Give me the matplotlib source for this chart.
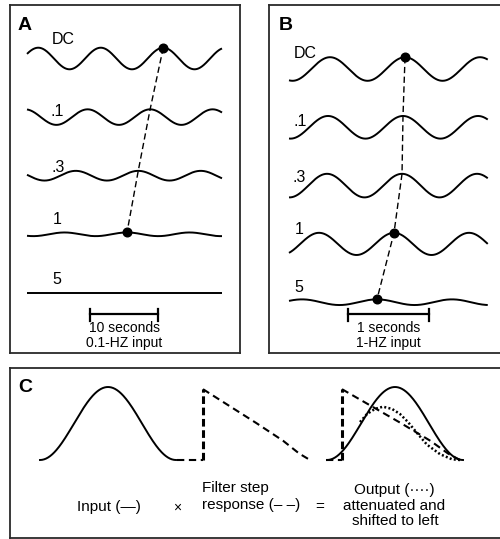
import numpy as np
import matplotlib
matplotlib.use('Agg')
import matplotlib.pyplot as plt

plt.rcParams['font.family'] = ['Liberation Sans', 'DejaVu Sans']

# ---------------- data ----------------
row_labels = ['DC', '.1', '.3', '1', '5']

# Panel A: 0.1-Hz input
freq_a = 0.1
gain_a = [1.0, 0.72, 0.45, 0.17, 0.0]
peak_time_a = [21.8, 19.7, 17.8, 16.0, 14.4]   # s
duration_a = 31.2
dots_a = [0, 3]
peak_rows_a = [0, 1, 2, 3]
scale_a = (10.1, 21.0)
scale_text_a = ['10 seconds', '0.1-HZ input']

# Panel B: 1-Hz input
freq_b = 1.0
gain_b = [1.0, 0.96, 1.0, 0.94, 0.24]
peak_time_b = [1.547, 1.52, 1.507, 1.40, 1.173]  # s
duration_b = 2.65
dots_b = [0, 3, 4]
peak_rows_b = [0, 1, 2, 3, 4]
scale_b = (0.787, 1.867)
scale_text_b = ['1 seconds', '1-HZ input']

# Panel C: schematic input x filter step response = output
input_start = [30, 317]
input_width = 136
filter_pre = [167, 316]
filter_step = [193, 332]
filter_end = [300, 450]
filter_top = 0.97
decay_s = [0.0, 0.25, 0.5, 0.75, 0.9, 1.0]
decay_v = [1.0, 0.76, 0.52, 0.27, 0.09, 0.0]
output_x = [350, 357, 365, 373, 382, 390, 398, 407, 417, 430, 442, 450]
output_y = [0.52, 0.63, 0.70, 0.73, 0.70, 0.63, 0.52, 0.37, 0.21, 0.08, 0.01, 0.0]

# ---------------- layout ----------------
W, H = 500, 539
fig = plt.figure(figsize=(W / 100, H / 100), dpi=100)
BORDER = '#2a2a2a'
LW = 1.4


def fx(px):
    return px / W


def fy(py):
    return 1 - py / H


def style_box(ax):
    ax.set_xticks([])
    ax.set_yticks([])
    for s in ax.spines.values():
        s.set_color(BORDER)
        s.set_linewidth(1.3)
    ax.patch.set_alpha(0)


def wave_panel(left_px, right_px, px_per_sec, x0_px, row_y0, row_gap, base_amp,
               freq, gains, peaks, duration, dots, peak_rows, scale, scale_text,
               label_pos, letter, letter_pos):
    ax = fig.add_axes([fx(left_px), fy(353), fx(right_px - left_px), 348 / H])
    style_box(ax)
    ax.set_xlim(-x0_px / px_per_sec, (right_px - left_px - x0_px) / px_per_sec)
    ax.set_ylim(348, 0)
    t = np.linspace(0, duration, 600)
    pk_x, pk_y = [], []
    for i, (g, tp) in enumerate(zip(gains, peaks)):
        yc = row_y0 + i * row_gap
        amp = base_amp * g
        y = yc - amp * np.cos(2 * np.pi * freq * (t - tp))
        ax.plot(t, y, color='black', lw=LW, solid_capstyle='butt')
        if i in peak_rows:
            pk_x.append(tp)
            pk_y.append(yc - amp)
    ax.plot(pk_x, pk_y, color='black', lw=1.0, ls=(0, (4.5, 2.5)))
    for i in dots:
        ax.plot(pk_x[peak_rows.index(i)], pk_y[peak_rows.index(i)], 'o',
                color='black', ms=6.2)
    # scale bar
    yb = 309
    ax.plot(scale, [yb, yb], color='black', lw=1.6)
    for xb in scale:
        ax.plot([xb, xb], [yb - 5, yb + 7], color='black', lw=1.6)
    xm = (scale[0] + scale[1]) / 2
    ax.text(xm, 323, scale_text[0], ha='center', va='center', fontsize=10)
    ax.text(xm, 338, scale_text[1], ha='center', va='center', fontsize=10)
    for lab, (px, py) in zip(row_labels, label_pos):
        fig.text(fx(px), fy(py), lab, ha='center', va='center', fontsize=11.5)
    fig.text(fx(letter_pos[0]), fy(letter_pos[1]), letter, ha='center',
             va='center', fontsize=14, fontweight='bold')
    return ax


wave_panel(10, 240, 6.25, 17, 53.5, 58.6, 10.8, freq_a, gain_a, peak_time_a,
           duration_a, dots_a, peak_rows_a, scale_a, scale_text_a,
           [(63, 40), (57, 111), (58, 167), (57, 220), (57, 279)], 'A', (25, 25))

wave_panel(269, 509, 75.0, 20, 64.0, 58.3, 11.8, freq_b, gain_b, peak_time_b,
           duration_b, dots_b, peak_rows_b, scale_b, scale_text_b,
           [(305, 53), (300, 122), (299, 177), (299, 229), (299, 287)], 'B', (286, 25))

# ---------------- panel C ----------------
axC = fig.add_axes([fx(10), fy(538), fx(499), 170 / H])
style_box(axC)
axC.set_xlim(0, 499)
axC.set_ylim(-(538 - 460) / 73, (460 - 368) / 73)

dash_c = (0, (3.5, 2.2))
for k in range(2):
    xs = np.linspace(0, 1, 200)
    axC.plot(input_start[k] + xs * input_width, (1 - np.cos(2 * np.pi * xs)) / 2,
             color='black', lw=LW)
    xd = [filter_pre[k], filter_step[k], filter_step[k]] + \
         [filter_step[k] + s * (filter_end[k] - filter_step[k]) for s in decay_s]
    yd = [0, 0, filter_top] + [filter_top * v for v in decay_v]
    axC.plot(xd[:2], yd[:2], color='black', lw=1.5, ls=dash_c)
    axC.plot(xd[1:3], yd[1:3], color='black', lw=2.2, ls=(0, (2.5, 1.2)))
    axC.plot(xd[2:], yd[2:], color='black', lw=1.5, ls=dash_c)

axC.plot(output_x, output_y, color='black', lw=1.8, ls=(0, (0.8, 0.9)))

fig.text(fx(25), fy(388), 'C', ha='center', va='center', fontsize=14,
         fontweight='bold')
fig.text(fx(109), fy(507), 'Input (\u2014)', ha='center', va='center', fontsize=11)
fig.text(fx(177), fy(508), '\u00d7', ha='center', va='center', fontsize=10)
fig.text(fx(202), fy(488), 'Filter step', ha='left', va='center', fontsize=11)
fig.text(fx(202), fy(505), 'response (\u2013 \u2013)', ha='left', va='center', fontsize=11)
fig.text(fx(320), fy(507), '=', ha='center', va='center', fontsize=11)
fig.text(fx(394), fy(490), 'Output (\u00b7\u00b7\u00b7\u00b7)', ha='center', va='center', fontsize=11)
fig.text(fx(394), fy(506), 'attenuated and', ha='center', va='center', fontsize=11)
fig.text(fx(395), fy(521), 'shifted to left', ha='center', va='center', fontsize=11)

fig.savefig('out.png', dpi=100)
